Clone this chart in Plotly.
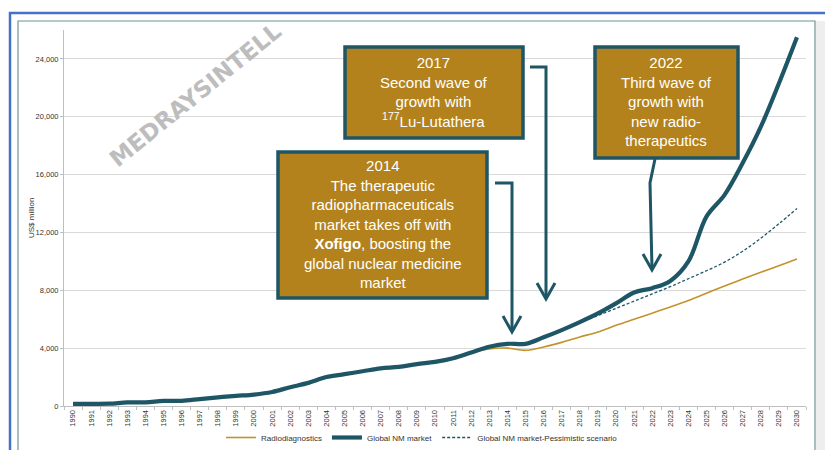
import plotly.graph_objects as go

years = list(range(1990, 2031))
global_nm = [150, 150, 160, 250, 250, 350, 360, 480, 600, 700, 790, 970, 1300, 1600, 2000,
             2200, 2400, 2600, 2700, 2900, 3050, 3300, 3700, 4100, 4300, 4300, 4750, 5250,
             5800, 6400, 7100, 7850, 8150, 8650, 10000, 13100, 14600, 16800, 19300, 22300, 25500]
radiodiag = [150, 150, 160, 250, 250, 350, 360, 480, 600, 700, 790, 970, 1300, 1600, 2000,
             2200, 2400, 2600, 2700, 2900, 3050, 3300, 3700, 3950, 4000, 3850, 4080, 4400,
             4770, 5120, 5580, 6000, 6420, 6850, 7300, 7800, 8300, 8780, 9250, 9700, 10170]
pess_years = list(range(2017, 2031))
pessimistic = [5250, 5750, 6250, 6750, 7250, 7750, 8250, 8800, 9350, 9950, 10700, 11600, 12600, 13650]

series_names = ["Radiodiagnostics", "Global NM market", "Global NM market-Pessimistic scenario"]
y_ticks = [0, 4000, 8000, 12000, 16000, 20000, 24000]

TEAL = "#1E5666"
GOLD = "#C4922A"
BOXFILL = "#B3821C"

# The page body has an 8px default margin: the figure is drawn from (8, 8).
OFF = 8
W, H = 833 - OFF, 450 - OFF
# plot area in reference-picture pixels
L, R, T, B = 64, 806, 30, 406

def px(x):
    return (x - L) / (R - L)

def py(y):
    return (B - y) / (B - T)

fig = go.Figure()
fig.add_trace(go.Scatter(x=years, y=radiodiag, name=series_names[0], mode="lines",
                         line=dict(color=GOLD, width=1.6, shape="spline")))
fig.add_trace(go.Scatter(x=years, y=global_nm, name=series_names[1], mode="lines",
                         line=dict(color=TEAL, width=4.2, shape="spline")))
fig.add_trace(go.Scatter(x=pess_years, y=pessimistic, name=series_names[2], mode="lines",
                         line=dict(color=TEAL, width=1.3, dash="3px,2px", shape="spline")))

shapes = []
# frames
shapes.append(dict(type="rect", xref="paper", yref="paper", x0=px(816), x1=px(840), y0=py(21), y1=py(460),
                   fillcolor="#EEEEEE", line=dict(width=0), layer="below"))
shapes.append(dict(type="rect", xref="paper", yref="paper", x0=px(10), x1=px(845), y0=py(13), y1=py(470),
                   line=dict(color="#4472C4", width=2.5), fillcolor="rgba(0,0,0,0)"))
shapes.append(dict(type="rect", xref="paper", yref="paper", x0=px(18), x1=px(815), y0=py(21), y1=py(470),
                   line=dict(color="#6F9495", width=1.2), fillcolor="rgba(0,0,0,0)"))

# annotation boxes
boxes = [
    ((278, 152, 487, 298), "2014<br>The therapeutic<br>radiopharmaceuticals<br>market takes off with<br><b>Xofigo</b>, boosting the<br>global nuclear medicine<br>market"),
    ((345, 47, 523, 138), "2017<br>Second wave of<br>growth with<br><sup>177</sup>Lu-Lutathera"),
    ((595, 47, 738, 158), "2022<br>Third wave of<br>growth with<br>new radio-<br>therapeutics"),
]
annotations = []
for (x0, y0, x1, y1), txt in boxes:
    shapes.append(dict(type="rect", xref="paper", yref="paper", x0=px(x0), x1=px(x1), y0=py(y0), y1=py(y1),
                       fillcolor=BOXFILL, line=dict(color=TEAL, width=3.5)))
    annotations.append(dict(xref="paper", yref="paper", x=px((x0 + x1) / 2), y=py((y0 + y1) / 2 - 1),
                            text=txt, showarrow=False, xanchor="center", yanchor="middle",
                            font=dict(family="Liberation Sans, Arial", size=15, color="white")))

def path(points):
    s = "M " + " L ".join(f"{px(a)},{py(b)}" for a, b in points)
    return s

arrows = [
    [(495, 183), (512, 183), (512, 331)],
    [(530, 67), (546, 67), (546, 298)],
    [(655, 159), (650, 183), (652, 269)],
]
for pts in arrows:
    shapes.append(dict(type="path", xref="paper", yref="paper", path=path(pts),
                       line=dict(color=TEAL, width=3)))
    tx, ty = pts[-1]
    shapes.append(dict(type="path", xref="paper", yref="paper",
                       path=path([(tx - 9, ty - 15), (tx, ty + 1), (tx + 9, ty - 15)]),
                       line=dict(color=TEAL, width=3)))

# watermark
annotations.append(dict(xref="paper", yref="paper", x=px(195), y=py(95), text="<b>MEDRAYSINTELL</b>",
                        showarrow=False, textangle=-39, xanchor="center", yanchor="middle",
                        font=dict(family="DejaVu Sans, Verdana", size=23, color="#BDBDBD")))

# y-axis title as annotation
annotations.append(dict(xref="paper", yref="paper", x=px(31), y=py(218), text="US$ million",
                        showarrow=False, textangle=-90, xanchor="center", yanchor="middle",
                        font=dict(family="Liberation Sans, Arial", size=8, color="#333333")))

fig.update_layout(
    width=W, height=H,
    margin=dict(l=L - OFF, r=W - (R - OFF), t=T - OFF, b=H - (B - OFF), autoexpand=False),
    paper_bgcolor="white", plot_bgcolor="white",
    shapes=shapes, annotations=annotations,
    showlegend=True,
    legend=dict(orientation="h", x=(221 - OFF) / W, y=1 - (423 - OFF) / H, xref="container", yref="container",
                xanchor="left", yanchor="top",
                font=dict(family="Liberation Sans, Arial", size=8, color="#333333"),
                itemwidth=30, tracegroupgap=0, bgcolor="rgba(0,0,0,0)"),
    font=dict(family="Liberation Sans, Arial", size=8, color="#333333"),
    xaxis=dict(type="category", tickmode="array", tickvals=years, ticktext=[str(y) for y in years],
               tickangle=-90, showgrid=False, showline=True, linecolor="#BFBFBF", linewidth=1,
               ticks="outside", ticklen=3, tickcolor="#BFBFBF", tickson="boundaries",
               tickfont=dict(size=7.5, color="#333333"), range=[-0.5, 40.5], zeroline=False,
               automargin=False),
    yaxis=dict(range=[0, 26000], tickvals=y_ticks, tickformat=",", showgrid=True, gridcolor="#D9D9D9",
               gridwidth=1, showline=True, linecolor="#BFBFBF", linewidth=1, zeroline=False,
               ticks="outside", ticklen=3, tickcolor="#BFBFBF",
               tickfont=dict(size=7.5, color="#333333"), automargin=False),
)

fig.write_html("out.html")
